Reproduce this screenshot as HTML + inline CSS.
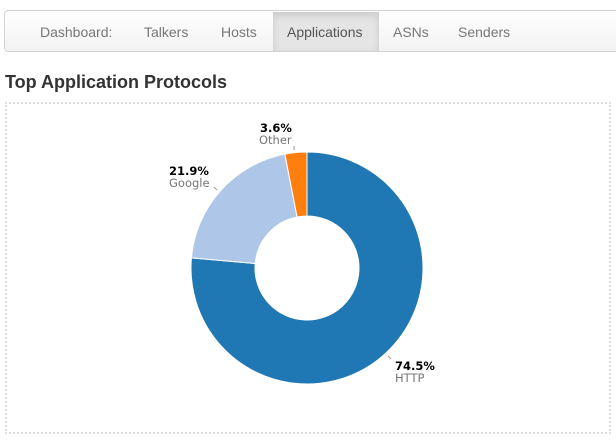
<!DOCTYPE html>
<html><head><style>
body{margin:0;width:616px;height:444px;background:#fff;font-family:"Liberation Sans",sans-serif;overflow:hidden;position:relative}
.nav{position:absolute;left:4px;top:10px;width:620px;height:42px;border:1px solid #d4d4d4;border-radius:4px;background:linear-gradient(#fff,#f2f2f2);box-sizing:border-box}
.nav span{position:absolute;top:13px;font-size:14px;color:#777}
.act{position:absolute;left:268px;top:1px;width:106px;height:39px;background:#e5e5e5;box-shadow:inset 0 3px 8px rgba(0,0,0,.125)}
h1{position:absolute;left:5px;top:72px;margin:0;font-size:18px;font-weight:bold;color:#333}
.box{position:absolute;left:5px;top:102px;width:606px;height:332px;border:2px dotted #ddd;box-sizing:border-box}
</style></head><body>
<div class="nav"><div class="act"></div>
<span style="left:35px">Dashboard:</span><span style="left:139px">Talkers</span><span style="left:216px">Hosts</span><span style="left:282px;color:#555">Applications</span><span style="left:388px">ASNs</span><span style="left:453px">Senders</span></div>
<h1>Top Application Protocols</h1>
<div class="box"></div>
<svg width="616" height="444" style="position:absolute;left:0;top:0" font-family="DejaVu Sans, sans-serif" font-size="11.5">
<path d="M307,152 A116,116 0 1 1 191.44,257.9 L255.2,263.5 A52,52 0 1 0 307,216 Z" fill="#1f77b4" stroke="#fff" stroke-width="1"/>
<path d="M191.44,257.9 A116,116 0 0 1 284.87,154.1 L297.08,216.96 A52,52 0 0 0 255.2,263.5 Z" fill="#aec7e8" stroke="#fff" stroke-width="1"/>
<path d="M284.87,154.1 A116,116 0 0 1 307,152 L307,216 A52,52 0 0 0 297.08,216.96 Z" fill="#ff7f0e" stroke="#fff" stroke-width="1"/>
<line x1="388" y1="356" x2="391" y2="359" stroke="#999"/>
<line x1="214" y1="187" x2="217" y2="190" stroke="#999"/>
<line x1="294" y1="146" x2="294" y2="150" stroke="#999"/>
<text x="395" y="370" font-weight="bold" fill="#000">74.5%</text><text x="395" y="382" fill="#777">HTTP</text>
<text x="169" y="175" font-weight="bold" fill="#000">21.9%</text><text x="169" y="187" fill="#777">Google</text>
<text x="260" y="132" font-weight="bold" fill="#000">3.6%</text><text x="259" y="144" fill="#777">Other</text>
</svg>
</body></html>
